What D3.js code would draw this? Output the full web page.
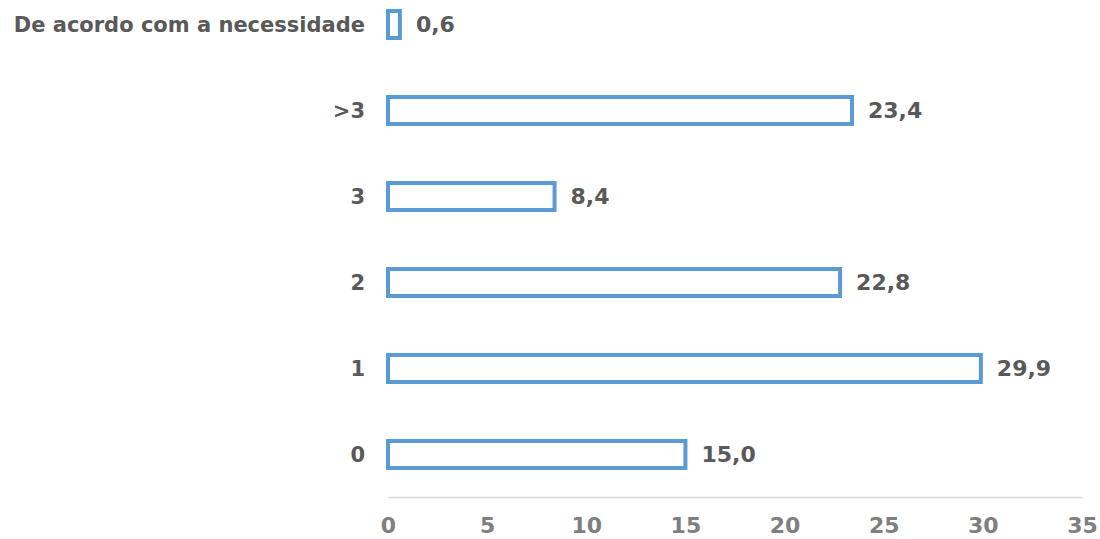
<!DOCTYPE html>
<html>
<head>
<meta charset="utf-8">
<script src="https://cdn.jsdelivr.net/npm/d3@7/dist/d3.min.js"></script>
<style>
  html, body { margin: 0; padding: 0; background: #ffffff; }
  svg { display: block; }
  text { font-family: "DejaVu Sans", Verdana, sans-serif; font-weight: bold; }
</style>
</head>
<body>
<svg id="chart" width="1100" height="539"></svg>
<script>
// Categories from top to bottom, with their percentages
const categories = ["De acordo com a necessidade", ">3", "3", "2", "1", "0"];
const values = [0.6, 23.4, 8.4, 22.8, 29.9, 15.0];
const tickValues = [0, 5, 10, 15, 20, 25, 30, 35];

const svg = d3.select("#chart");
const fmt = v => v.toFixed(1).replace(".", ",");

const x = d3.scaleLinear().domain([0, 35]).range([388, 1082]);
const y = d3.scaleBand()
  .domain(categories)
  .range([-18.5, 497.5])
  .paddingInner(0.686)
  .paddingOuter(0.343);

// Bottom axis: light rule with grey tick labels
const axis = svg.append("g")
  .attr("transform", "translate(0,497)")
  .call(d3.axisBottom(x).tickValues(tickValues).tickSize(0).tickPadding(20).tickFormat(d3.format("d")));
axis.select(".domain").attr("stroke", "#d9d9d9").attr("stroke-width", 1.5);
axis.selectAll("text")
  .attr("font-size", 22)
  .attr("font-family", "DejaVu Sans, Verdana, sans-serif")
  .attr("font-weight", "bold")
  .attr("fill", "#7f7f7f");

// Outlined bars
svg.append("g").selectAll("rect")
  .data(values)
  .join("rect")
  .attr("x", x(0))
  .attr("y", (d, i) => y(categories[i]))
  .attr("width", d => x(d) - x(0))
  .attr("height", y.bandwidth())
  .attr("fill", "#ffffff")
  .attr("stroke", "#5b9bd5")
  .attr("stroke-width", 4);

// Category labels
svg.append("g").selectAll("text")
  .data(categories)
  .join("text")
  .attr("x", x(0) - 23)
  .attr("y", d => y(d) + y.bandwidth() / 2)
  .attr("dy", "0.36em")
  .attr("text-anchor", "end")
  .attr("font-size", 21)
  .attr("fill", "#595959")
  .text(d => d);

// Value labels at the bar ends
svg.append("g").selectAll("text")
  .data(values)
  .join("text")
  .attr("x", d => x(d) + 16)
  .attr("y", (d, i) => y(categories[i]) + y.bandwidth() / 2)
  .attr("dy", "0.36em")
  .attr("font-size", 22)
  .attr("fill", "#595959")
  .text(d => fmt(d));
</script>
</body>
</html>
